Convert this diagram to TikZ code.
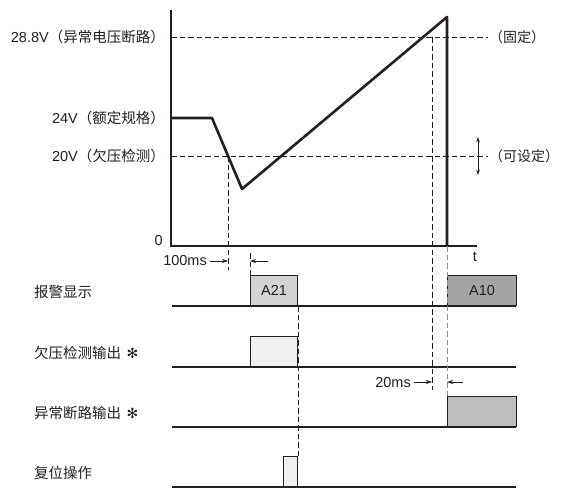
\documentclass[tikz,border=0pt]{standalone}
\usepackage{fontspec}
\setmainfont{Liberation Sans}
\newfontfamily\cjk{Noto Sans CJK SC}
\newfontfamily\symfont{DejaVu Sans Bold}
\usetikzlibrary{arrows.meta}
\definecolor{ink}{HTML}{231F20}
\definecolor{alarmlight}{HTML}{D3D3D3}
\definecolor{alarmdark}{HTML}{A4A4A4}
\definecolor{outlight}{HTML}{F0F0F0}
\definecolor{outdark}{HTML}{BEBEBE}
\newcommand\outmark{{\symfont\fontsize{14}{16}\selectfont ✻}}

\tikzset{
  axis/.style={line width=1.4pt, ink},
  volt/.style={line width=2.6pt, ink, line join=round},
  guide/.style={dash pattern=on 5.5pt off 3pt, line width=0.7pt, ink},
  greyguide/.style={dash pattern=on 5.5pt off 3pt, line width=1pt, black!45},
  dimarrow/.style={-{Stealth[length=6pt,width=4pt]}, line width=0.6pt, ink},
  pulse/.style={draw=ink, line width=1pt, anchor=south west, minimum height=30pt, inner sep=0pt},
  sidenote/.style={anchor=west, font=\cjk\fontsize{14}{16}\selectfont},
}

\begin{document}
\begin{tikzpicture}[x=1pt,y=-1pt,font=\fontsize{14.5}{17}\selectfont,
    every node/.append style={text=ink, inner sep=0pt}]
    \useasboundingbox (0,0) rectangle (561,488);

    % voltage chart
    \coordinate (top) at (171,10);
    \coordinate (O) at (171,246);
    \coordinate (tend) at (477,246);
    \draw[axis] (top) -- (O) -- (tend);
    \node[anchor=east] (zero) at (163,241) {0};
    \node (t) at (475,257) {t};

    \foreach \name/\y in {hi/37, lo/156} {
        \coordinate (\name-l) at (171,\y);
        \coordinate (\name-r) at (488,\y);
        \draw[guide] (\name-l) -- (\name-r);
    }
    \node[anchor=east] (vhi) at (165,37) {28.8V{\cjk（异常电压断路）}};
    \node[anchor=east] (vnom) at (165,118) {24V{\cjk（额定规格）}};
    \node[anchor=east] (vlo) at (165,156) {20V{\cjk（欠压检测）}};
    \node[sidenote] (fixed) at (489,37) {（固定）};
    \node[sidenote] (adjust) at (489,156) {（可设定）};
    \draw[{Stealth[length=5pt,width=3.5pt]}-{Stealth[length=5pt,width=3.5pt]}, line width=0.7pt, ink]
        (478,137) -- (478,175);

    \coordinate (v0) at (171,118);
    \coordinate (v1) at (212,118);
    \coordinate (vmin) at (242,189);
    \coordinate (vpeak) at (447,17);
    \coordinate (vcut) at (447,246);
    \draw[volt] (v0) -- (v1) -- (vmin) -- (vpeak) -- (vcut);

    % timing rows
    \foreach \name/\y/\w/\txt in {alarm/306/1.2/报警显示, uvout/367/1.2/欠压检测输出,
                                   about/427/2/异常断路输出, reset/487/1.2/复位操作} {
        \coordinate (\name-s) at (172,\y);
        \coordinate (\name-e) at (516,\y);
        \draw[line width=\w pt, ink] (\name-s) -- (\name-e);
        \node[anchor=west] (\name-lbl) at (34,\y-14) {\cjk \txt};
    }
    \node[anchor=west, xshift=5pt] (uvmark) at (uvout-lbl.east) {\outmark};
    \node[anchor=west, xshift=5pt] (abmark) at (about-lbl.east) {\outmark};

    \node[pulse, fill=alarmlight, minimum width=47pt] (a21) at (250,306) {A21};
    \node[pulse, fill=alarmdark, minimum width=69pt] (a10) at (447,306) {A10};
    \node[pulse, fill=outlight, minimum width=47pt] (uv) at (250,367) {};
    \node[pulse, fill=outdark, minimum width=69pt] (ab) at (447,427) {};
    \node[pulse, fill=outlight, minimum width=14pt] (rst) at (283,487) {};

    % guides
    \coordinate (cross) at (228,156);
    \coordinate (cross-b) at (228,270);
    \coordinate (delay-t) at (250,253);
    \coordinate (hi-x) at (432,37);
    \coordinate (hi-b) at (432,390);
    \draw[guide] (cross) -- (cross-b);
    \draw[guide] (delay-t) -- (a21.north west);
    \draw[guide] (hi-x) -- (hi-b);
    \draw[greyguide] (vcut) -- (ab.north west);
    \draw[guide] (a21.south east) -- (rst.north east);

    % 100ms
    \node[anchor=east] (d100) at (207,261) {100ms};
    \coordinate (d100-a) at (210,261);
    \coordinate (d100-b) at (268,261);
    \draw[dimarrow] (d100-a) -- (cross |- d100-a);
    \draw[dimarrow] (d100-b) -- (delay-t |- d100-b);

    % 20ms
    \node[anchor=east] (d20) at (411,382) {20ms};
    \coordinate (d20-a) at (414,382);
    \coordinate (d20-b) at (463,382);
    \draw[dimarrow] (d20-a) -- (hi-x |- d20-a);
    \draw[dimarrow] (d20-b) -- (vcut |- d20-b);
\end{tikzpicture}
\end{document}
